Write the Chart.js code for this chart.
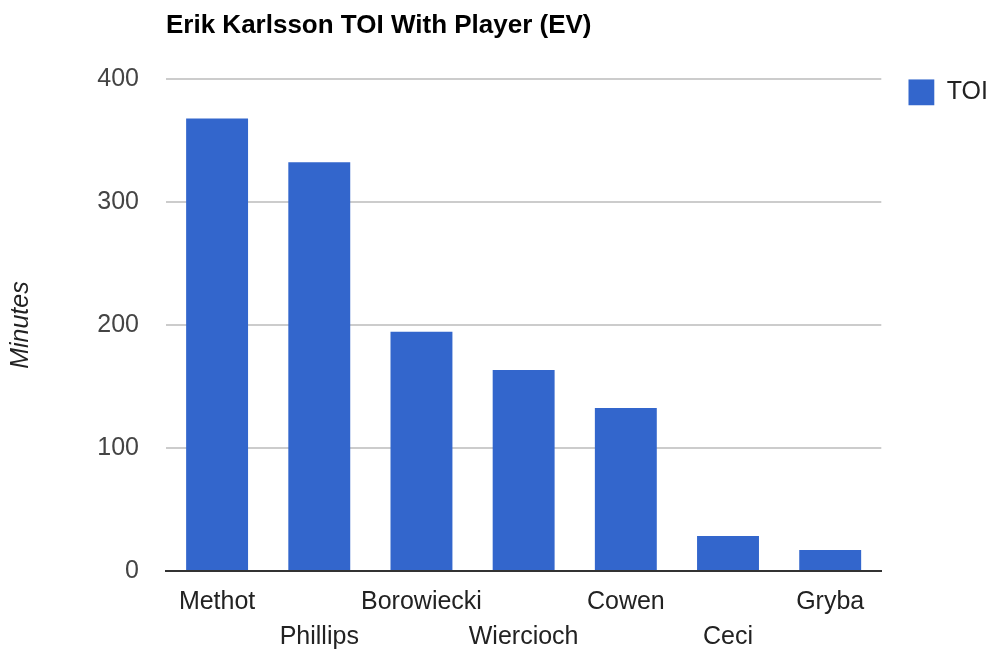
<!DOCTYPE html>
<html lang="en">
  <head>
    <meta charset="UTF-8" />
    <title>Erik Karlsson TOI With Player (EV)</title>
    <script src="https://cdn.jsdelivr.net/npm/chart.js@4/dist/chart.umd.min.js"></script>
    <style>
      html,
      body {
        margin: 0;
        padding: 0;
        background: #fff;
      }
      #wrap {
        width: 1000px;
        height: 656px;
      }
    </style>
  </head>
  <body>
    <div id="wrap">
      <canvas id="toiChart" width="1000" height="656"></canvas>
    </div>
    <script>
      // data
      const players = ["Methot", "Phillips", "Borowiecki", "Wiercioch", "Cowen", "Ceci", "Gryba"];
      const toiMinutes = [368, 332.5, 194.5, 163.5, 132.5, 28.5, 17];
      const yTicks = [0, 100, 200, 300, 400];

      const FONT = "'Liberation Sans', Arial, sans-serif";

      new Chart(document.getElementById("toiChart"), {
        type: "bar",
        data: {
          labels: players,
          datasets: [
            {
              label: "TOI",
              data: toiMinutes,
              backgroundColor: "#3366cc",
              borderWidth: 0,
              categoryPercentage: 1,
              barPercentage: 0.606
            }
          ]
        },
        options: {
          responsive: false,
          animation: false,
          layout: {
            padding: { left: 0, right: 2, top: 0, bottom: 0 }
          },
          plugins: {
            title: {
              display: true,
              text: "Erik Karlsson TOI With Player (EV)",
              align: "start",
              fullSize: false,
              color: "#000",
              font: { family: FONT, size: 26, weight: "bold" },
              padding: { top: 10, bottom: 38 }
            },
            legend: {
              position: "right",
              align: "start",
              fullSize: false,
              labels: {
                boxWidth: 26,
                boxHeight: 26,
                padding: 0,
                color: "#222",
                font: { family: FONT, size: 25 }
              }
            },
            tooltip: { enabled: false }
          },
          scales: {
            x: {
              grid: { display: false },
              border: { display: true, color: "#333", width: 2 },
              ticks: {
                autoSkip: false,
                maxRotation: 0,
                minRotation: 0,
                padding: 6,
                color: "#222",
                font: { family: FONT, size: 25, lineHeight: 1.4 },
                // stagger the labels on two rows
                callback: function(value, index) {
                  const name = this.getLabelForValue(value);
                  return index % 2 ? ["", name] : name;
                }
              },
              afterFit: function(scale) {
                scale.height = 85;
              }
            },
            y: {
              min: 0,
              max: 400,
              afterBuildTicks: function(scale) {
                scale.ticks = yTicks.map(v => ({ value: v }));
              },
              grid: {
                color: "#cccccc",
                lineWidth: 2,
                drawTicks: false
              },
              border: { display: false },
              ticks: {
                padding: 27,
                color: "#444",
                font: { family: FONT, size: 25 }
              },
              title: {
                display: true,
                text: "Minutes",
                color: "#222",
                padding: { top: 6, bottom: 0 },
                font: { family: FONT, size: 25, style: "italic" }
              },
              afterFit: function(scale) {
                scale.width = 166;
              }
            },
            // empty axis on the right, only keeps room between plot and legend
            spacer: {
              type: "linear",
              position: "right",
              display: true,
              grid: { display: false, drawOnChartArea: false },
              border: { display: false },
              ticks: { display: false },
              afterFit: function(scale) {
                scale.width = 27;
              }
            }
          }
        }
      });
    </script>
  </body>
</html>
